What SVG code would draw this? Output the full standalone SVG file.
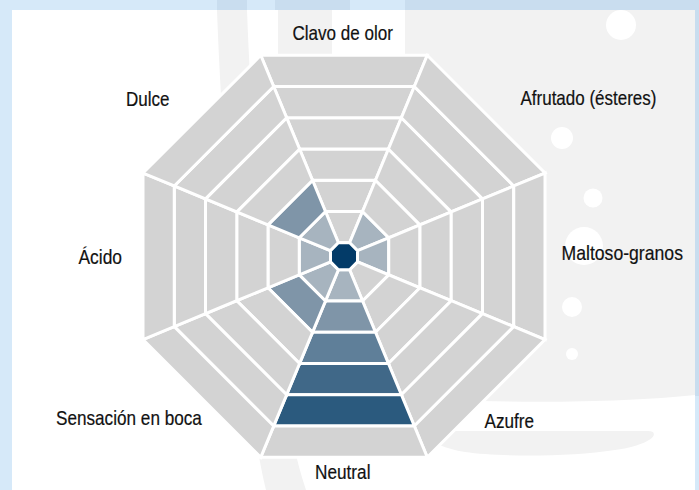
<svg xmlns="http://www.w3.org/2000/svg" xmlns:xlink="http://www.w3.org/1999/xlink" width="699" height="490" viewBox="0 0 699 490">
<style>
.band{fill:#d6e9f9}
.band2{fill:#c9ddef}
.deco{fill:#f2f2f2}
.bub{fill:#ffffff}
.cell{stroke:#ffffff;stroke-width:3;stroke-linejoin:miter}
.g0{fill:#d3d3d3}
.c1{fill:#a7b4bf}
.c2{fill:#7f95a8}
.c3{fill:#5f7f99}
.c4{fill:#406888}
.c5{fill:#2b5a7e}
.ctr{fill:#033b68}
.lbl{font-family:"Liberation Sans",Arial,sans-serif;font-size:20.5px;fill:#111111;stroke:#111111;stroke-width:0.2}
</style>
<defs>
<polygon id="r1" points="-5.592,-13.5 5.592,-13.5 18.536,-44.75 -18.536,-44.75"/>
<polygon id="r2" points="-18.536,-44.75 18.536,-44.75 31.48,-76 -31.48,-76"/>
<polygon id="r3" points="-31.48,-76 31.48,-76 44.424,-107.25 -44.424,-107.25"/>
<polygon id="r4" points="-44.424,-107.25 44.424,-107.25 57.369,-138.5 -57.369,-138.5"/>
<polygon id="r5" points="-57.369,-138.5 57.369,-138.5 70.313,-169.75 -70.313,-169.75"/>
<polygon id="r6" points="-70.313,-169.75 70.313,-169.75 83.257,-201 -83.257,-201"/>
</defs>
<g id="background">
<rect class="band" x="0" y="0" width="699" height="490"/>
<rect class="band2" x="217" y="0" width="30" height="10"/>
<rect class="band2" x="275" y="0" width="75" height="10"/>
<rect class="band2" x="405" y="0" width="294" height="10"/>
<rect class="band2" x="695" y="10" width="4" height="386"/>
<rect x="12" y="10" width="683" height="480" fill="#ffffff"/>
<path class="deco" d="M217,10 H247 C252,150 270,380 306,490 H266 C240,380 222,150 217,10 Z"/>
<rect class="deco" x="278" y="10" width="54" height="190"/>
<path class="deco" d="M405,10 H695 V395 C640,401 560,403 480,401 L405,401 Z"/>
<path class="deco" d="M425,431 H648 C660,431 656,444 615,450 C570,457 500,457 465,452 C445,449 432,442 425,436 Z"/>
<circle class="bub" cx="621" cy="25" r="15"/>
<circle class="bub" cx="562" cy="138" r="11"/>
<circle class="bub" cx="593" cy="198" r="9.5"/>
<circle class="bub" cx="584" cy="246" r="19"/>
<circle class="bub" cx="572" cy="307" r="10"/>
<circle class="bub" cx="572" cy="354" r="6"/>
</g>
<g id="axis-clavo">
<g transform="translate(344,256.3) rotate(0)">
<use xlink:href="#r1" class="cell g0"/><use xlink:href="#r2" class="cell g0"/><use xlink:href="#r3" class="cell g0"/><use xlink:href="#r4" class="cell g0"/><use xlink:href="#r5" class="cell g0"/><use xlink:href="#r6" class="cell g0"/>
</g>
<text class="lbl" transform="translate(292.5,39.5) scale(0.832,1)">Clavo de olor</text>
</g>
<g id="axis-afrutado">
<g transform="translate(344,256.3) rotate(45)">
<use xlink:href="#r1" class="cell c1"/><use xlink:href="#r2" class="cell g0"/><use xlink:href="#r3" class="cell g0"/><use xlink:href="#r4" class="cell g0"/><use xlink:href="#r5" class="cell g0"/><use xlink:href="#r6" class="cell g0"/>
</g>
<text class="lbl" transform="translate(520.5,104.5) scale(0.829,1)">Afrutado (ésteres)</text>
</g>
<g id="axis-maltoso">
<g transform="translate(344,256.3) rotate(90)">
<use xlink:href="#r1" class="cell c1"/><use xlink:href="#r2" class="cell g0"/><use xlink:href="#r3" class="cell g0"/><use xlink:href="#r4" class="cell g0"/><use xlink:href="#r5" class="cell g0"/><use xlink:href="#r6" class="cell g0"/>
</g>
<text class="lbl" transform="translate(561.5,259.5) scale(0.86,1)">Maltoso-granos</text>
</g>
<g id="axis-azufre">
<g transform="translate(344,256.3) rotate(135)">
<use xlink:href="#r1" class="cell g0"/><use xlink:href="#r2" class="cell g0"/><use xlink:href="#r3" class="cell g0"/><use xlink:href="#r4" class="cell g0"/><use xlink:href="#r5" class="cell g0"/><use xlink:href="#r6" class="cell g0"/>
</g>
<text class="lbl" transform="translate(484.5,428.3) scale(0.836,1)">Azufre</text>
</g>
<g id="axis-neutral">
<g transform="translate(344,256.3) rotate(180)">
<use xlink:href="#r1" class="cell c1"/><use xlink:href="#r2" class="cell c2"/><use xlink:href="#r3" class="cell c3"/><use xlink:href="#r4" class="cell c4"/><use xlink:href="#r5" class="cell c5"/><use xlink:href="#r6" class="cell g0"/>
</g>
<text class="lbl" transform="translate(315,479.3) scale(0.84,1)">Neutral</text>
</g>
<g id="axis-sensacion">
<g transform="translate(344,256.3) rotate(225)">
<use xlink:href="#r1" class="cell c1"/><use xlink:href="#r2" class="cell c2"/><use xlink:href="#r3" class="cell g0"/><use xlink:href="#r4" class="cell g0"/><use xlink:href="#r5" class="cell g0"/><use xlink:href="#r6" class="cell g0"/>
</g>
<text class="lbl" transform="translate(56,425) scale(0.837,1)">Sensación en boca</text>
</g>
<g id="axis-acido">
<g transform="translate(344,256.3) rotate(270)">
<use xlink:href="#r1" class="cell c1"/><use xlink:href="#r2" class="cell g0"/><use xlink:href="#r3" class="cell g0"/><use xlink:href="#r4" class="cell g0"/><use xlink:href="#r5" class="cell g0"/><use xlink:href="#r6" class="cell g0"/>
</g>
<text class="lbl" transform="translate(78.5,263.5) scale(0.848,1)">Ácido</text>
</g>
<g id="axis-dulce">
<g transform="translate(344,256.3) rotate(315)">
<use xlink:href="#r1" class="cell c1"/><use xlink:href="#r2" class="cell c2"/><use xlink:href="#r3" class="cell g0"/><use xlink:href="#r4" class="cell g0"/><use xlink:href="#r5" class="cell g0"/><use xlink:href="#r6" class="cell g0"/>
</g>
<text class="lbl" transform="translate(126,106) scale(0.83,1)">Dulce</text>
</g>
<g id="center">
<polygon class="cell ctr" transform="translate(344,256.3)" points="-5.592,-13.5 5.592,-13.5 13.5,-5.592 13.5,5.592 5.592,13.5 -5.592,13.5 -13.5,5.592 -13.5,-5.592"/>
</g>
</svg>
